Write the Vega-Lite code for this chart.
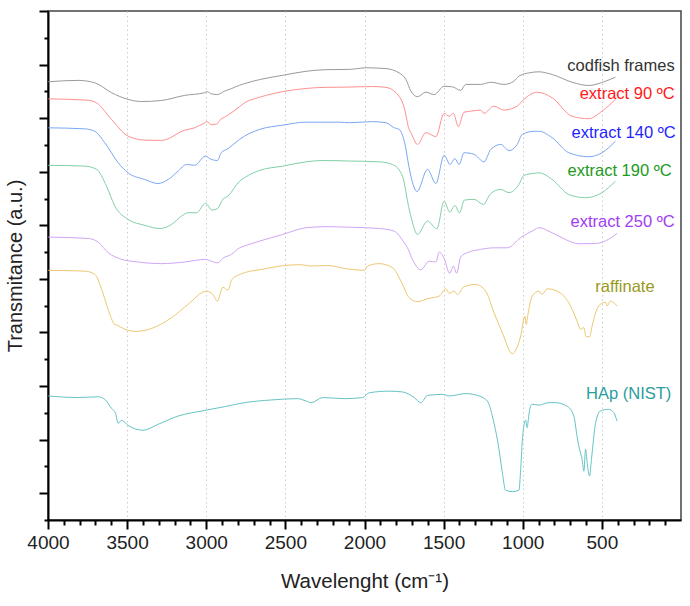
{
  "$schema": "https://vega.github.io/schema/vega-lite/v6.json",
  "width": 633,
  "height": 509,
  "autosize": {"type": "none"},
  "padding": {"left": 48, "top": 11, "right": 9, "bottom": 86},
  "background": "white",
  "config": {
    "view": {"stroke": "#444444", "strokeWidth": 1.5},
    "font": "Liberation Sans"
  },
  "datasets": {
    "spectra": [
      {"s":"cf","w":3998,"t":16.36},{"s":"cf","w":3809,"t":16.41},{"s":"cf","w":3704,"t":16.32},{"s":"cf","w":3598,"t":15.95},{"s":"cf","w":3494,"t":15.70},{"s":"cf","w":3409,"t":15.62},{"s":"cf","w":3283,"t":15.66},{"s":"cf","w":3136,"t":15.85},{"s":"cf","w":3010,"t":15.95},{"s":"cf","w":2993,"t":15.99},{"s":"cf","w":2968,"t":15.91},{"s":"cf","w":2930,"t":15.88},{"s":"cf","w":2884,"t":16.01},{"s":"cf","w":2842,"t":16.10},{"s":"cf","w":2789,"t":16.23},{"s":"cf","w":2758,"t":16.29},{"s":"cf","w":2663,"t":16.44},{"s":"cf","w":2516,"t":16.60},{"s":"cf","w":2369,"t":16.75},{"s":"cf","w":2243,"t":16.81},{"s":"cf","w":2096,"t":16.82},{"s":"cf","w":1991,"t":16.88},{"s":"cf","w":1865,"t":16.85},{"s":"cf","w":1781,"t":16.69},{"s":"cf","w":1738,"t":16.44},{"s":"cf","w":1707,"t":16.01},{"s":"cf","w":1665,"t":15.80},{"s":"cf","w":1612,"t":15.97},{"s":"cf","w":1560,"t":15.88},{"s":"cf","w":1497,"t":16.19},{"s":"cf","w":1445,"t":16.17},{"s":"cf","w":1392,"t":16.04},{"s":"cf","w":1360,"t":16.26},{"s":"cf","w":1266,"t":16.26},{"s":"cf","w":1202,"t":16.34},{"s":"cf","w":1119,"t":16.26},{"s":"cf","w":1056,"t":16.38},{"s":"cf","w":1024,"t":16.57},{"s":"cf","w":961,"t":16.69},{"s":"cf","w":898,"t":16.73},{"s":"cf","w":814,"t":16.63},{"s":"cf","w":688,"t":16.34},{"s":"cf","w":583,"t":16.22},{"s":"cf","w":477,"t":16.38},{"s":"cf","w":414,"t":16.53},
      {"s":"e90","w":3998,"t":15.72},{"s":"e90","w":3746,"t":15.67},{"s":"e90","w":3693,"t":15.57},{"s":"e90","w":3598,"t":14.95},{"s":"e90","w":3494,"t":14.33},{"s":"e90","w":3388,"t":14.18},{"s":"e90","w":3283,"t":14.17},{"s":"e90","w":3136,"t":14.55},{"s":"e90","w":3073,"t":14.64},{"s":"e90","w":3010,"t":14.83},{"s":"e90","w":2996,"t":14.87},{"s":"e90","w":2968,"t":14.76},{"s":"e90","w":2930,"t":14.79},{"s":"e90","w":2916,"t":14.91},{"s":"e90","w":2873,"t":15.07},{"s":"e90","w":2789,"t":15.43},{"s":"e90","w":2758,"t":15.57},{"s":"e90","w":2663,"t":15.78},{"s":"e90","w":2516,"t":15.99},{"s":"e90","w":2369,"t":16.11},{"s":"e90","w":2243,"t":16.15},{"s":"e90","w":2096,"t":16.16},{"s":"e90","w":1949,"t":16.18},{"s":"e90","w":1865,"t":16.15},{"s":"e90","w":1801,"t":15.95},{"s":"e90","w":1749,"t":15.39},{"s":"e90","w":1718,"t":14.58},{"s":"e90","w":1707,"t":14.46},{"s":"e90","w":1665,"t":14.02},{"s":"e90","w":1612,"t":14.46},{"s":"e90","w":1549,"t":14.31},{"s":"e90","w":1497,"t":15.18},{"s":"e90","w":1465,"t":15.07},{"s":"e90","w":1438,"t":15.18},{"s":"e90","w":1407,"t":14.68},{"s":"e90","w":1371,"t":15.22},{"s":"e90","w":1329,"t":15.26},{"s":"e90","w":1266,"t":15.30},{"s":"e90","w":1245,"t":15.18},{"s":"e90","w":1182,"t":15.45},{"s":"e90","w":1119,"t":15.30},{"s":"e90","w":1035,"t":15.45},{"s":"e90","w":993,"t":15.70},{"s":"e90","w":909,"t":15.97},{"s":"e90","w":814,"t":15.76},{"s":"e90","w":688,"t":15.07},{"s":"e90","w":583,"t":14.98},{"s":"e90","w":499,"t":15.26},{"s":"e90","w":414,"t":15.70},
      {"s":"e140","w":3998,"t":14.64},{"s":"e140","w":3767,"t":14.60},{"s":"e140","w":3704,"t":14.51},{"s":"e140","w":3641,"t":14.08},{"s":"e140","w":3557,"t":13.34},{"s":"e140","w":3494,"t":12.96},{"s":"e140","w":3388,"t":12.71},{"s":"e140","w":3305,"t":12.56},{"s":"e140","w":3241,"t":12.71},{"s":"e140","w":3178,"t":13.02},{"s":"e140","w":3125,"t":13.27},{"s":"e140","w":3073,"t":13.24},{"s":"e140","w":3006,"t":13.58},{"s":"e140","w":2968,"t":13.46},{"s":"e140","w":2930,"t":13.42},{"s":"e140","w":2905,"t":13.71},{"s":"e140","w":2863,"t":13.86},{"s":"e140","w":2789,"t":14.21},{"s":"e140","w":2758,"t":14.33},{"s":"e140","w":2663,"t":14.58},{"s":"e140","w":2516,"t":14.74},{"s":"e140","w":2369,"t":14.85},{"s":"e140","w":2159,"t":14.85},{"s":"e140","w":2096,"t":14.83},{"s":"e140","w":1949,"t":14.87},{"s":"e140","w":1865,"t":14.83},{"s":"e140","w":1812,"t":14.64},{"s":"e140","w":1781,"t":14.58},{"s":"e140","w":1745,"t":14.05},{"s":"e140","w":1718,"t":13.15},{"s":"e140","w":1707,"t":12.84},{"s":"e140","w":1668,"t":12.26},{"s":"e140","w":1602,"t":13.09},{"s":"e140","w":1549,"t":12.56},{"s":"e140","w":1497,"t":13.61},{"s":"e140","w":1459,"t":13.27},{"s":"e140","w":1429,"t":13.49},{"s":"e140","w":1402,"t":13.27},{"s":"e140","w":1371,"t":13.71},{"s":"e140","w":1308,"t":13.65},{"s":"e140","w":1245,"t":13.37},{"s":"e140","w":1202,"t":13.83},{"s":"e140","w":1139,"t":14.02},{"s":"e140","w":1087,"t":13.79},{"s":"e140","w":1035,"t":14.02},{"s":"e140","w":1003,"t":14.39},{"s":"e140","w":930,"t":14.51},{"s":"e140","w":898,"t":14.51},{"s":"e140","w":814,"t":14.27},{"s":"e140","w":709,"t":13.71},{"s":"e140","w":583,"t":13.56},{"s":"e140","w":499,"t":13.71},{"s":"e140","w":414,"t":14.14},
      {"s":"e190","w":3998,"t":13.24},{"s":"e190","w":3767,"t":13.21},{"s":"e190","w":3693,"t":13.09},{"s":"e190","w":3630,"t":12.46},{"s":"e190","w":3578,"t":11.72},{"s":"e190","w":3494,"t":11.22},{"s":"e190","w":3388,"t":11.00},{"s":"e190","w":3294,"t":10.88},{"s":"e190","w":3220,"t":11.03},{"s":"e190","w":3157,"t":11.34},{"s":"e190","w":3115,"t":11.47},{"s":"e190","w":3062,"t":11.47},{"s":"e190","w":3004,"t":11.82},{"s":"e190","w":2964,"t":11.57},{"s":"e190","w":2930,"t":11.62},{"s":"e190","w":2895,"t":11.97},{"s":"e190","w":2863,"t":12.09},{"s":"e190","w":2789,"t":12.65},{"s":"e190","w":2758,"t":12.78},{"s":"e190","w":2663,"t":13.05},{"s":"e190","w":2516,"t":13.21},{"s":"e190","w":2369,"t":13.37},{"s":"e190","w":2264,"t":13.42},{"s":"e190","w":2096,"t":13.40},{"s":"e190","w":1907,"t":13.37},{"s":"e190","w":1823,"t":13.27},{"s":"e190","w":1760,"t":12.84},{"s":"e190","w":1749,"t":12.59},{"s":"e190","w":1728,"t":11.90},{"s":"e190","w":1702,"t":11.22},{"s":"e190","w":1665,"t":10.66},{"s":"e190","w":1602,"t":11.16},{"s":"e190","w":1543,"t":10.87},{"s":"e190","w":1497,"t":11.90},{"s":"e190","w":1461,"t":11.49},{"s":"e190","w":1429,"t":11.74},{"s":"e190","w":1400,"t":11.47},{"s":"e190","w":1369,"t":11.94},{"s":"e190","w":1308,"t":11.97},{"s":"e190","w":1249,"t":11.78},{"s":"e190","w":1202,"t":12.19},{"s":"e190","w":1139,"t":12.34},{"s":"e190","w":1087,"t":12.22},{"s":"e190","w":1024,"t":12.53},{"s":"e190","w":993,"t":12.86},{"s":"e190","w":930,"t":12.94},{"s":"e190","w":898,"t":12.96},{"s":"e190","w":814,"t":12.71},{"s":"e190","w":709,"t":12.15},{"s":"e190","w":604,"t":12.03},{"s":"e190","w":499,"t":12.22},{"s":"e190","w":414,"t":12.65},
      {"s":"e250","w":3998,"t":10.56},{"s":"e250","w":3746,"t":10.51},{"s":"e250","w":3683,"t":10.37},{"s":"e250","w":3620,"t":9.98},{"s":"e250","w":3535,"t":9.73},{"s":"e250","w":3431,"t":9.63},{"s":"e250","w":3283,"t":9.57},{"s":"e250","w":3136,"t":9.63},{"s":"e250","w":3004,"t":9.73},{"s":"e250","w":2968,"t":9.66},{"s":"e250","w":2926,"t":9.60},{"s":"e250","w":2895,"t":9.77},{"s":"e250","w":2842,"t":9.91},{"s":"e250","w":2789,"t":10.16},{"s":"e250","w":2758,"t":10.23},{"s":"e250","w":2663,"t":10.41},{"s":"e250","w":2516,"t":10.66},{"s":"e250","w":2369,"t":10.91},{"s":"e250","w":2243,"t":10.95},{"s":"e250","w":2096,"t":10.93},{"s":"e250","w":1907,"t":10.88},{"s":"e250","w":1812,"t":10.78},{"s":"e250","w":1749,"t":10.35},{"s":"e250","w":1730,"t":10.18},{"s":"e250","w":1697,"t":9.73},{"s":"e250","w":1644,"t":9.34},{"s":"e250","w":1592,"t":9.66},{"s":"e250","w":1549,"t":9.63},{"s":"e250","w":1528,"t":10.00},{"s":"e250","w":1497,"t":9.77},{"s":"e250","w":1462,"t":9.21},{"s":"e250","w":1438,"t":9.48},{"s":"e250","w":1418,"t":9.21},{"s":"e250","w":1392,"t":9.82},{"s":"e250","w":1350,"t":9.98},{"s":"e250","w":1266,"t":10.10},{"s":"e250","w":1182,"t":10.16},{"s":"e250","w":1098,"t":10.16},{"s":"e250","w":1013,"t":10.54},{"s":"e250","w":930,"t":10.82},{"s":"e250","w":898,"t":10.91},{"s":"e250","w":814,"t":10.72},{"s":"e250","w":730,"t":10.47},{"s":"e250","w":646,"t":10.31},{"s":"e250","w":540,"t":10.32},{"s":"e250","w":457,"t":10.48},{"s":"e250","w":404,"t":10.70},
      {"s":"raf","w":3998,"t":9.32},{"s":"raf","w":3767,"t":9.29},{"s":"raf","w":3704,"t":9.17},{"s":"raf","w":3661,"t":8.61},{"s":"raf","w":3620,"t":7.86},{"s":"raf","w":3578,"t":7.30},{"s":"raf","w":3561,"t":7.27},{"s":"raf","w":3515,"t":7.12},{"s":"raf","w":3441,"t":7.04},{"s":"raf","w":3346,"t":7.15},{"s":"raf","w":3220,"t":7.55},{"s":"raf","w":3115,"t":8.05},{"s":"raf","w":3000,"t":8.54},{"s":"raf","w":2958,"t":8.42},{"s":"raf","w":2930,"t":8.17},{"s":"raf","w":2895,"t":8.69},{"s":"raf","w":2863,"t":8.58},{"s":"raf","w":2838,"t":8.98},{"s":"raf","w":2758,"t":9.23},{"s":"raf","w":2653,"t":9.35},{"s":"raf","w":2506,"t":9.50},{"s":"raf","w":2400,"t":9.53},{"s":"raf","w":2344,"t":9.48},{"s":"raf","w":2233,"t":9.50},{"s":"raf","w":2127,"t":9.39},{"s":"raf","w":2075,"t":9.35},{"s":"raf","w":2001,"t":9.32},{"s":"raf","w":1980,"t":9.48},{"s":"raf","w":1907,"t":9.57},{"s":"raf","w":1823,"t":9.42},{"s":"raf","w":1770,"t":8.92},{"s":"raf","w":1718,"t":8.30},{"s":"raf","w":1665,"t":8.15},{"s":"raf","w":1602,"t":8.26},{"s":"raf","w":1528,"t":8.36},{"s":"raf","w":1486,"t":8.63},{"s":"raf","w":1465,"t":8.46},{"s":"raf","w":1434,"t":8.54},{"s":"raf","w":1413,"t":8.42},{"s":"raf","w":1371,"t":8.71},{"s":"raf","w":1297,"t":8.79},{"s":"raf","w":1234,"t":8.54},{"s":"raf","w":1182,"t":7.74},{"s":"raf","w":1129,"t":6.99},{"s":"raf","w":1066,"t":6.21},{"s":"raf","w":1013,"t":6.87},{"s":"raf","w":986,"t":7.61},{"s":"raf","w":978,"t":7.30},{"s":"raf","w":967,"t":7.68},{"s":"raf","w":940,"t":8.36},{"s":"raf","w":898,"t":8.54},{"s":"raf","w":877,"t":8.42},{"s":"raf","w":846,"t":8.63},{"s":"raf","w":772,"t":8.51},{"s":"raf","w":709,"t":8.11},{"s":"raf","w":657,"t":7.43},{"s":"raf","w":635,"t":7.12},{"s":"raf","w":614,"t":7.18},{"s":"raf","w":600,"t":6.84},{"s":"raf","w":578,"t":6.84},{"s":"raf","w":562,"t":7.24},{"s":"raf","w":520,"t":7.99},{"s":"raf","w":477,"t":8.13},{"s":"raf","w":467,"t":7.99},{"s":"raf","w":446,"t":8.17},{"s":"raf","w":404,"t":7.99},
      {"s":"hap","w":3998,"t":4.63},{"s":"hap","w":3809,"t":4.57},{"s":"hap","w":3683,"t":4.60},{"s":"hap","w":3641,"t":4.50},{"s":"hap","w":3598,"t":4.16},{"s":"hap","w":3573,"t":3.98},{"s":"hap","w":3557,"t":3.61},{"s":"hap","w":3535,"t":3.72},{"s":"hap","w":3494,"t":3.53},{"s":"hap","w":3399,"t":3.35},{"s":"hap","w":3305,"t":3.57},{"s":"hap","w":3178,"t":3.88},{"s":"hap","w":3010,"t":4.09},{"s":"hap","w":2884,"t":4.23},{"s":"hap","w":2758,"t":4.38},{"s":"hap","w":2590,"t":4.48},{"s":"hap","w":2422,"t":4.53},{"s":"hap","w":2369,"t":4.44},{"s":"hap","w":2337,"t":4.38},{"s":"hap","w":2264,"t":4.57},{"s":"hap","w":2127,"t":4.53},{"s":"hap","w":2012,"t":4.57},{"s":"hap","w":1970,"t":4.75},{"s":"hap","w":1844,"t":4.81},{"s":"hap","w":1760,"t":4.78},{"s":"hap","w":1686,"t":4.57},{"s":"hap","w":1644,"t":4.38},{"s":"hap","w":1602,"t":4.65},{"s":"hap","w":1508,"t":4.69},{"s":"hap","w":1465,"t":4.63},{"s":"hap","w":1360,"t":4.72},{"s":"hap","w":1276,"t":4.63},{"s":"hap","w":1224,"t":4.44},{"s":"hap","w":1182,"t":3.63},{"s":"hap","w":1150,"t":2.64},{"s":"hap","w":1129,"t":1.77},{"s":"hap","w":1108,"t":1.11},{"s":"hap","w":1066,"t":1.06},{"s":"hap","w":1024,"t":1.11},{"s":"hap","w":1013,"t":1.89},{"s":"hap","w":1003,"t":2.94},{"s":"hap","w":993,"t":3.51},{"s":"hap","w":982,"t":3.73},{"s":"hap","w":972,"t":3.45},{"s":"hap","w":965,"t":3.74},{"s":"hap","w":955,"t":4.16},{"s":"hap","w":940,"t":4.32},{"s":"hap","w":898,"t":4.29},{"s":"hap","w":835,"t":4.38},{"s":"hap","w":793,"t":4.38},{"s":"hap","w":720,"t":4.25},{"s":"hap","w":677,"t":3.88},{"s":"hap","w":657,"t":3.13},{"s":"hap","w":641,"t":2.64},{"s":"hap","w":625,"t":2.26},{"s":"hap","w":614,"t":1.82},{"s":"hap","w":603,"t":2.64},{"s":"hap","w":593,"t":2.14},{"s":"hap","w":578,"t":1.64},{"s":"hap","w":566,"t":2.26},{"s":"hap","w":540,"t":3.61},{"s":"hap","w":509,"t":4.07},{"s":"hap","w":457,"t":4.13},{"s":"hap","w":425,"t":4.01},{"s":"hap","w":404,"t":3.69}
    ],
    "labels": [
      {"s":"cf","name":"codfish frames","w":40,"t":16.94},
      {"s":"e90","name":"extract 90 ºC","w":40,"t":15.92},
      {"s":"e140","name":"extract 140 ºC","w":34,"t":14.45},
      {"s":"e190","name":"extract 190 ºC","w":59,"t":13.02},
      {"s":"e250","name":"extract 250 ºC","w":40,"t":11.13},
      {"s":"raf","name":"raffinate","w":167,"t":8.69},
      {"s":"hap","name":"HAp (NIST)","w":61,"t":4.69}
    ]
  },
  "encoding": {
    "x": {
      "field": "w", "type": "quantitative",
      "scale": {"domain": [0, 4000], "reverse": true, "nice": false, "zero": false},
      "axis": {
        "title": "Wavelenght (cm⁻¹)",
        "values": [4000,3900,3800,3700,3600,3500,3400,3300,3200,3100,3000,2900,2800,2700,2600,2500,2400,2300,2200,2100,2000,1900,1800,1700,1600,1500,1400,1300,1200,1100,1000,900,800,700,600,500,400,300,200,100],
        "labelExpr": "datum.value % 500 === 0 ? format(datum.value, 'd') : ''",
        "labelOverlap": false,
        "labelFlush": false,
        "tickSize": {"condition": {"test": "datum.value % 500 === 0", "value": 9}, "value": 5},
        "tickColor": "black", "tickWidth": 2,
        "domainColor": "black", "domainWidth": 2,
        "grid": true,
        "gridColor": "#cccccc", "gridDash": [1.5, 3], "gridWidth": 1,
        "gridOpacity": {"condition": {"test": "datum.value % 500 === 0 && datum.value < 4000", "value": 1}, "value": 0},
        "labelFont": "Liberation Sans", "labelFontSize": 19, "labelColor": "#222222", "labelPadding": 4,
        "titleFont": "Liberation Sans", "titleFontSize": 20.5, "titleFontWeight": "normal", "titleColor": "#222222", "titlePadding": 19
      }
    },
    "y": {
      "field": "t", "type": "quantitative",
      "scale": {"domain": [0, 19], "nice": false, "zero": false},
      "axis": {
        "title": "Transmitance (a.u.)",
        "values": [0,1,2,3,4,5,6,7,8,9,10,11,12,13,14,15,16,17,18,19],
        "labels": false,
        "grid": false,
        "tickSize": {"condition": {"test": "datum.value % 2 === 1", "value": 9}, "value": 4},
        "tickColor": "black", "tickWidth": 2,
        "domainColor": "black", "domainWidth": 2,
        "titleFont": "Liberation Sans", "titleFontSize": 20, "titleFontWeight": "normal", "titleColor": "#222222", "titlePadding": 13
      }
    }
  },
  "layer": [
    {
      "data": {"name": "spectra"},
      "mark": {"type": "line", "strokeWidth": 1, "interpolate": "monotone"},
      "encoding": {
        "color": {
          "field": "s", "type": "nominal", "legend": null,
          "scale": {"domain": ["cf","e90","e140","e190","e250","raf","hap"], "range": ["#9a9a9a","#ff9090","#7aa7f2","#82cfa6","#cfa6f5","#eec870","#66c4c4"]}
        }
      }
    },
    {
      "data": {"name": "labels"},
      "mark": {"type": "text", "align": "right", "baseline": "middle", "font": "Liberation Sans", "fontSize": 16.5},
      "encoding": {
        "text": {"field": "name"},
        "color": {
          "field": "s", "type": "nominal", "legend": null,
          "scale": {"domain": ["cf","e90","e140","e190","e250","raf","hap"], "range": ["#333333","#ff1a1a","#1f1fff","#229a22","#a23cf5","#999922","#2a9d9d"]}
        }
      }
    }
  ],
  "resolve": {"scale": {"color": "independent"}}
}
